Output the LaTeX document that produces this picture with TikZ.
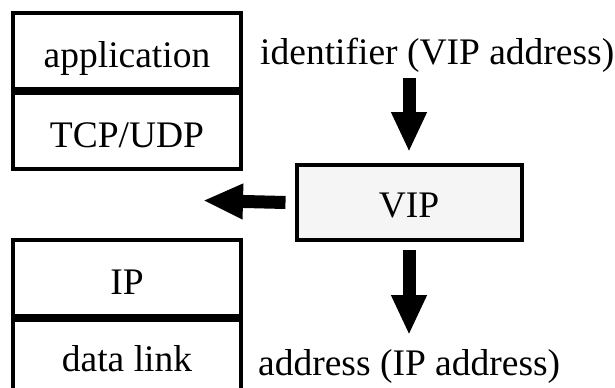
\documentclass[tikz,border=0pt]{standalone}
\usepackage{fontspec}
\setmainfont{Liberation Serif}
\usetikzlibrary{arrows.meta}
\begin{document}
\begin{tikzpicture}[x=1bp,y=-1bp,
  cell/.style={draw, line width=4bp, minimum width=228bp, inner xsep=0pt, inner ysep=0pt, text height=54bp, text depth=22bp, anchor=north},
  fat/.style={line width=13bp, -{Triangle[length=40bp,width=33bp]}},
  lbl/.style={inner sep=0pt, anchor=base west},
  font=\fontsize{37.5bp}{45bp}\selectfont]
\useasboundingbox (0,0) rectangle (615,387);
\node[cell] (app) at (127,11) {application};
\node[cell] (tcp) at (app.south) {TCP/UDP};
\node[cell] (ip) at (127,238) {IP};
\node[cell, text height=51.5bp] (dl) at (ip.south) {data link};
\node[cell, fill=black!4, minimum width=225bp, text height=52bp, text depth=23bp] (vip) at (409,163) {VIP};
\node[lbl] (ident) at (260,64) {identifier (VIP address)};
\node[lbl] (addr) at (258,375) {address (IP address)};
\coordinate (a1) at (409,78);
\coordinate (lend) at (203,200.5);
\draw[fat] (a1) -- ([yshift=11bp]vip.north);
\draw[fat] ([yshift=-8bp]vip.south) -- ([yshift=-93bp]vip.south);
\draw[fat] ([xshift=-9bp]vip.west) -- (lend);
\end{tikzpicture}
\end{document}
